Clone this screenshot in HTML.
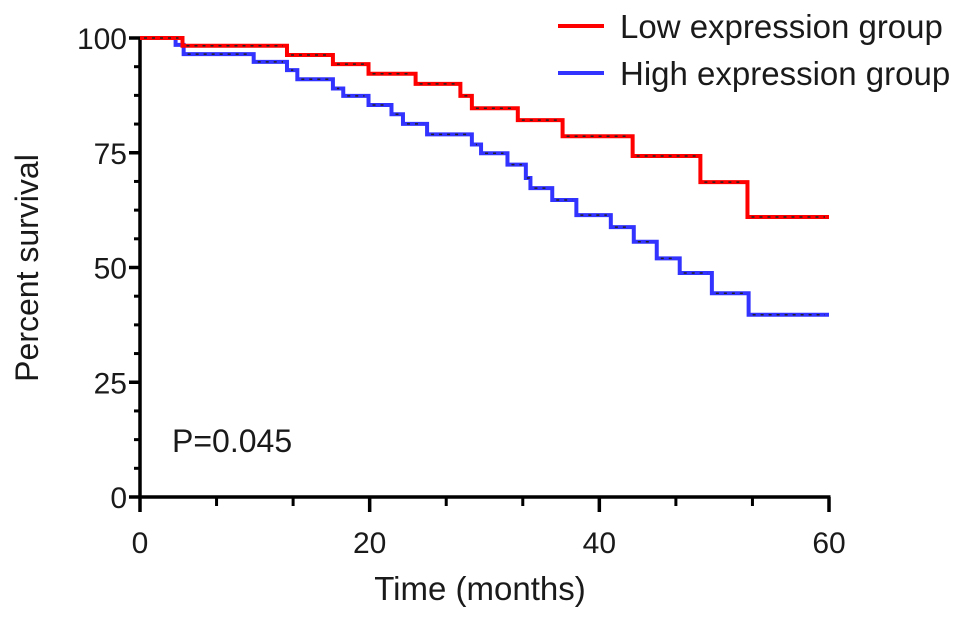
<!DOCTYPE html>
<html><head><meta charset="utf-8"><style>
body{margin:0;background:#fff;}
svg text{font-family:"Liberation Sans",Arial,sans-serif;fill:#1a1a1a;}
</style></head><body>
<svg id="chart" width="969" height="621" viewBox="0 0 969 621" xmlns="http://www.w3.org/2000/svg">
<g id="axes"></g><g id="series"></g>
<text x="172" y="452" font-size="32">P=0.045</text>
<text x="480" y="600" font-size="33" text-anchor="middle">Time (months)</text>
<text transform="translate(38,268) rotate(-90)" font-size="32" text-anchor="middle">Percent survival</text>
<g>
<line x1="558" y1="26" x2="604" y2="26" stroke="#ff0000" stroke-width="4"/>
<text x="620" y="38" font-size="33">Low expression group</text>
<line x1="558" y1="73" x2="604" y2="73" stroke="#3333ff" stroke-width="4"/>
<text x="620" y="85" font-size="33">High expression group</text>
</g>
</svg>
<script>
const xTicks=[0,20,40,60];
const yTicks=[0,25,50,75,100];
const lowTimes=[0,3.7,12.8,16.8,19.9,24,27.9,28.9,32.9,36.8,42.9,48.8,52.9];
const lowSurv=[100,98.3,96.3,94.3,92.2,90,87.4,84.7,82.1,78.6,74.3,68.6,61];
const highTimes=[0,3.1,3.8,9.9,12.8,13.7,16.8,17.7,19.9,21.9,22.9,25,28.9,29.7,32,33.6,34,35.9,38,41,43,45,47,49.8,53];
const highSurv=[100,98.5,96.5,94.8,93,91,89,87.4,85.4,83.4,81.3,79,76.8,74.9,72.4,69.5,67.3,64.7,61.4,58.8,55.6,52,48.8,44.4,39.7];
const xEnd=60;
const NS='http://www.w3.org/2000/svg';
const X0=140,X1=829,Y0=497,Y1=38;
const sx=v=>X0+(v/60)*(X1-X0);
const sy=v=>Y0-(v/100)*(Y0-Y1);
function mk(t,a,p){const e=document.createElementNS(NS,t);for(const k in a)e.setAttribute(k,a[k]);p.appendChild(e);return e;}
const ax=document.getElementById('axes');
let yl=mk('line',{x1:X0,y1:Y0+1.5,x2:X0,y2:Y1,stroke:'#000','stroke-width':3.5},ax);


let xl=mk('line',{x1:X0,y1:Y0,x2:X1+1.5,y2:Y0,stroke:'#000','stroke-width':3.5},ax);


for(let i=0;i<yTicks.length;i++){
  const y=sy(yTicks[i]);
  let t=mk('line',{x1:X0-11,y1:y,x2:X0,y2:y,stroke:'#000','stroke-width':3.5},ax);
  
  
  let l=mk('text',{x:X0-13,y:y+11,'font-size':30,'text-anchor':'end'},ax);l.textContent=yTicks[i];
  
  
  if(i<yTicks.length-1){for(let k=1;k<4;k++){const ym=sy(yTicks[i]+k*(yTicks[i+1]-yTicks[i])/4);
    let m=mk('line',{x1:X0-6,y1:ym,x2:X0,y2:ym,stroke:'#000','stroke-width':3},ax);
    
    }}
}
for(let i=0;i<xTicks.length;i++){
  const x=sx(xTicks[i]);
  let t=mk('line',{x1:x,y1:Y0,x2:x,y2:Y0+15,stroke:'#000','stroke-width':3.5},ax);
  
  
  let l=mk('text',{x:x,y:Y0+56,'font-size':30,'text-anchor':'middle'},ax);l.textContent=xTicks[i];
  
  
  if(i<xTicks.length-1){for(let k=1;k<3;k++){const xm=sx(xTicks[i]+k*(xTicks[i+1]-xTicks[i])/3);
    let m=mk('line',{x1:xm,y1:Y0,x2:xm,y2:Y0+9,stroke:'#000','stroke-width':3},ax);
    
    }}
}
const sg=document.getElementById('series');
function drawKM(times,surv,color,name){
  let d='M'+sx(times[0])+','+sy(surv[0]);
  for(let i=1;i<times.length;i++){d+=' H'+sx(times[i])+' V'+sy(surv[i]);}
  d+=' H'+sx(xEnd);
  const p=mk('path',{d:d,fill:'none',stroke:color,'stroke-width':4},sg);
  
  
  for(let i=0;i<times.length;i++){
    const a=sx(times[i]),b=i+1<times.length?sx(times[i+1]):sx(xEnd),y=sy(surv[i]);
    const c=mk('line',{x1:a+4,y1:y,x2:b-4,y2:y,stroke:'#222','stroke-width':1.5,'stroke-dasharray':'3 5'},sg);
    
    
  }
}
drawKM(highTimes,highSurv,'#3333ff','high-expression');
drawKM(lowTimes,lowSurv,'#ff0000','low-expression');
</script>
</body></html>
